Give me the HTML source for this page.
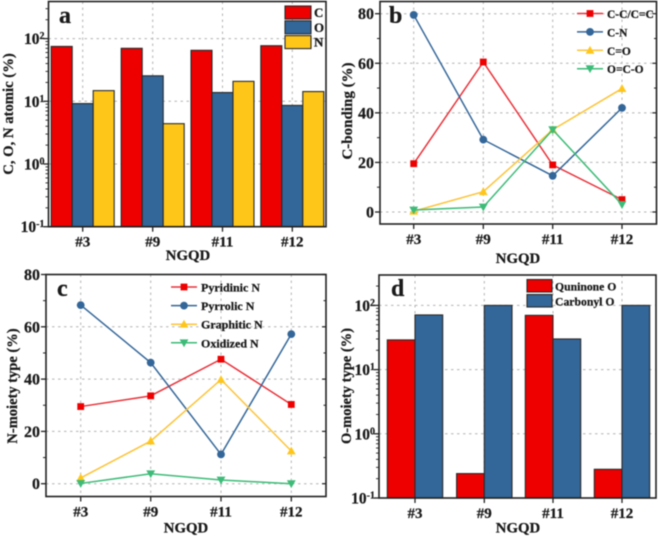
<!DOCTYPE html>
<html>
<head>
<meta charset="utf-8">
<style>
html,body{margin:0;padding:0;background:#fff;width:658px;height:537px;overflow:hidden}
svg{display:block;filter:blur(0.5px)}
text{font-family:"Liberation Serif",serif;font-weight:bold;fill:#1a1a1a;stroke:#1a1a1a;stroke-width:0.25px}
</style>
</head>
<body>
<svg id="fig" width="658" height="537" viewBox="0 0 658 537" xmlns="http://www.w3.org/2000/svg"></svg>
<script>
const categories = ['#3', '#9', '#11', '#12'];

const atomicC = [75, 70, 65, 77];
const atomicO = [9.2, 25.5, 13.8, 8.6];
const atomicN = [14.8, 4.4, 20.8, 14.3];

const bondCC = [19.5, 60.5, 19, 5];
const bondCN = [79.5, 29.2, 14.6, 42];
const bondCO = [0.3, 8.2, 33.2, 49.8];
const bondOCO = [0.8, 2, 33.2, 3];

const nPyridinic = [29.5, 33.6, 47.6, 30.3];
const nPyrrolic = [68.3, 46.3, 11.2, 57.2];
const nGraphitic = [2.2, 16.3, 39.8, 12.5];
const nOxidized = [0.1, 3.8, 1.4, 0];

const oQuinone = [29, 0.24, 70, 0.28];
const oCarbonyl = [71, 100, 30, 100];

const bTicks = [0, 20, 40, 60, 80];
const cTicks = [0, 20, 40, 60, 80];
const logTicks = [-1, 0, 1, 2];

const RED = '#ee0000', BLUE = '#336699', YEL = '#ffc61a', GRN = '#3dbb78';
const LRED = '#e8323a', LYEL = '#fcc438';
const NS = 'http://www.w3.org/2000/svg';
const svg = document.getElementById('fig');

function mk(tag, attrs, parent, txt) {
  const e = document.createElementNS(NS, tag);
  for (const k in attrs) e.setAttribute(k, attrs[k]);
  if (txt !== undefined) e.textContent = txt;
  (parent || svg).appendChild(e);
  return e;
}

function panelGroup(name) {
  const g = mk('g', {}, svg);
  
  
  return g;
}

function xTicks(g, p) {
  categories.forEach((c, i) => {
    const x = p.cx[i];
    mk('line', {x1: x, x2: x, y1: p.bottom, y2: p.bottom + 5, stroke: '#222', 'stroke-width': 1.3}, g);
    const t = mk('text', {x: x, y: p.bottom + 20, 'font-size': 15, 'text-anchor': 'middle'}, g, c);
    
    
  });
}

function frame(g, p) {
  const r = mk('rect', {x: p.left, y: p.top, width: p.right - p.left, height: p.bottom - p.top, fill: 'none', stroke: '#222', 'stroke-width': 1.6}, g);
  
  
}

function titles(g, p, ylabel, letter) {
  const xt = mk('text', {x: p.xtx, y: p.xty, 'font-size': 14.8, 'text-anchor': 'middle'}, g, 'NGQD');
  
  
  const yt = mk('text', {x: 0, y: 0, 'font-size': p.ytFs, 'text-anchor': 'middle', transform: `translate(${p.ytx},${p.yty}) rotate(-90)`}, g, ylabel);
  
  
  const pl = mk('text', {x: p.lx, y: p.ly, 'font-size': 24, fill: '#111'}, g, letter);
  
  
}

function grid(g, p, ys) {
  const dash = {stroke: '#b4b4b4', 'stroke-width': 1, 'stroke-dasharray': '2.5 3.5', fill: 'none'};
  ys.forEach(y => mk('line', Object.assign({x1: p.left, x2: p.right, y1: y, y2: y}, dash), g));
  p.cx.forEach(x => mk('line', Object.assign({x1: x, x2: x, y1: p.top, y2: p.bottom}, dash), g));
}

function linearPanel(name, p, ticks, series, ylabel, letter) {
  const g = panelGroup(name);
  const yOf = v => p.y0 + (p.y80 - p.y0) * v / 80;
  grid(g, p, ticks.map(yOf));
  series.forEach(s => {
    const pts = s.values.map((v, i) => p.cx[i] + ',' + yOf(v).toFixed(2)).join(' ');
    const l = mk('polyline', {points: pts, fill: 'none', stroke: s.color, 'stroke-width': 1.5}, g);
    
    
    s.values.forEach((v, i) => marker(g, s.shape, p.cx[i], yOf(v), s.fill));
  });
  frame(g, p);
  ticks.forEach((v, i) => {
    const y = yOf(v);
    mk('line', {x1: p.left - 5, x2: p.left + 0, y1: y, y2: y, stroke: '#222', 'stroke-width': 1.3}, g);
    mk('line', {x1: p.right - 4, x2: p.right, y1: y, y2: y, stroke: '#222', 'stroke-width': 1.2}, g);
    if (i < ticks.length - 1) {
      const m = yOf(v + 10);
      mk('line', {x1: p.left - 3, x2: p.left, y1: m, y2: m, stroke: '#222', 'stroke-width': 1}, g);
      mk('line', {x1: p.right - 2.5, x2: p.right, y1: m, y2: m, stroke: '#222', 'stroke-width': 1}, g);
    }
    const t = mk('text', {x: p.left - 6, y: y + 5.5, 'font-size': 16, 'text-anchor': 'end'}, g, v);
    
    
  });
  xTicks(g, p);
  titles(g, p, ylabel, letter);
  series.forEach((s, i) => {
    const y = p.legY + i * p.legDy;
    const lg = mk('g', {}, g);
    
    
    mk('line', {x1: p.legX, x2: p.legX + 26, y1: y, y2: y, stroke: s.color, 'stroke-width': 1.5}, lg);
    marker(lg, s.shape, p.legX + 13, y, s.fill);
    mk('text', {x: p.legX + 30, y: y + 4.5, 'font-size': p.legFs}, lg, s.label);
  });
}

function marker(g, shape, x, y, fill) {
  let m;
  if (shape === 'square') m = mk('rect', {x: x - 3.4, y: y - 3.4, width: 6.8, height: 6.8, fill: fill}, g);
  if (shape === 'circle') m = mk('circle', {cx: x, cy: y, r: 3.9, fill: fill}, g);
  if (shape === 'up') m = mk('polygon', {points: `${x - 4.4},${y + 3.4} ${x + 4.4},${y + 3.4} ${x},${y - 4.4}`, fill: fill}, g);
  if (shape === 'down') m = mk('polygon', {points: `${x - 4.4},${y - 3.4} ${x + 4.4},${y - 3.4} ${x},${y + 4.4}`, fill: fill}, g);
  
  
}

function logPanel(name, p, series, ylabel, letter) {
  const g = panelGroup(name);
  const yOf = v => p.y10m1 - (Math.log10(v) + 1) * p.decade;
  grid(g, p, logTicks.slice(1).map(e => yOf(Math.pow(10, e))));
  const n = series.length;
  categories.forEach((c, i) => {
    series.forEach((s, j) => {
      const x = p.cx[i] + (j - n / 2) * p.barW;
      const y = yOf(s.values[i]);
      const b = mk('rect', {x: x, y: y, width: p.barW, height: p.bottom - y, fill: s.color, stroke: '#2a2a2a', 'stroke-width': 1.1}, g);
      
      
    });
  });
  frame(g, p);
  logTicks.forEach(e => {
    const y = yOf(Math.pow(10, e));
    mk('line', {x1: p.left - 5, x2: p.left, y1: y, y2: y, stroke: '#222', 'stroke-width': 1.3}, g);
    const t = mk('text', {x: p.left - 4, y: y + 5.5, 'font-size': 15.5, 'text-anchor': 'end'}, g);
    
    
    mk('tspan', {}, t, '10');
    mk('tspan', {dy: -5, 'font-size': 10}, t, String(e));
    for (let k = 2; k < 10; k++) {
      const yy = yOf(k * Math.pow(10, e));
      if (yy > p.top) {
        mk('line', {x1: p.left - 3, x2: p.left, y1: yy, y2: yy, stroke: '#222', 'stroke-width': 0.9}, g);
      }
    }
  });
  xTicks(g, p);
  titles(g, p, ylabel, letter);
  series.forEach((s, i) => {
    const y = p.legY + i * p.legDy;
    const lg = mk('g', {}, g);
    
    
    mk('rect', {x: p.legX, y: y, width: p.legW, height: p.legH, fill: s.color, stroke: '#2a2a2a', 'stroke-width': 1.1}, lg);
    mk('text', {x: p.legX + p.legW + 3, y: y + p.legH / 2 + 4.5, 'font-size': p.legFs}, lg, s.label);
  });
}

logPanel('panel-a-atomic', {
  left: 48.5, right: 326, top: 1.5, bottom: 226.7, y10m1: 226.7, decade: 62.7,
  cx: [82.7, 152.7, 222.5, 292.3], barW: 21,
  xtx: 188, xty: 260, ytx: 13, yty: 114, ytFs: 14.7, lx: 59, ly: 23,
  legX: 285, legY: 6, legDy: 14.8, legW: 26, legH: 13, legFs: 13
}, [
  {label: 'C', color: RED, values: atomicC},
  {label: 'O', color: BLUE, values: atomicO},
  {label: 'N', color: YEL, values: atomicN}
], 'C, O, N atomic (%)', 'a');

linearPanel('panel-b-c-bonding', {
  left: 380, right: 656.5, top: 1.5, bottom: 224, y0: 212, y80: 13.7,
  cx: [413.7, 483.3, 552.7, 622],
  xtx: 518, xty: 263, ytx: 352, yty: 111, ytFs: 15, lx: 389, ly: 23,
  legX: 577, legY: 13.5, legDy: 18.4, legFs: 11.5
}, bTicks, [
  {label: 'C-C/C=C', color: LRED, fill: RED, shape: 'square', values: bondCC},
  {label: 'C-N', color: BLUE, fill: BLUE, shape: 'circle', values: bondCN},
  {label: 'C=O', color: LYEL, fill: YEL, shape: 'up', values: bondCO},
  {label: 'O=C-O', color: GRN, fill: GRN, shape: 'down', values: bondOCO}
], 'C-bonding (%)', 'b');

linearPanel('panel-c-n-moiety', {
  left: 46, right: 326, top: 274.5, bottom: 496.5, y0: 483.7, y80: 274.5,
  cx: [80.7, 150.7, 221, 291.3],
  xtx: 186, xty: 532.5, ytx: 17, yty: 386, ytFs: 14.5, lx: 57, ly: 296,
  legX: 171, legY: 287, legDy: 18.6, legFs: 12
}, cTicks, [
  {label: 'Pyridinic N', color: LRED, fill: RED, shape: 'square', values: nPyridinic},
  {label: 'Pyrrolic N', color: BLUE, fill: BLUE, shape: 'circle', values: nPyrrolic},
  {label: 'Graphitic N', color: LYEL, fill: YEL, shape: 'up', values: nGraphitic},
  {label: 'Oxidized N', color: GRN, fill: GRN, shape: 'down', values: nOxidized}
], 'N-moiety type (%)', 'c');

logPanel('panel-d-o-moiety', {
  left: 379, right: 656, top: 275, bottom: 498, y10m1: 498, decade: 64.2,
  cx: [415, 484.3, 553, 622], barW: 27.7,
  xtx: 518, xty: 532.5, ytx: 351, yty: 386, ytFs: 14.5, lx: 391, ly: 296,
  legX: 527, legY: 279.5, legDy: 15, legW: 25, legH: 12.5, legFs: 11.7
}, [
  {label: 'Quninone O', color: RED, values: oQuinone},
  {label: 'Carbonyl O', color: BLUE, values: oCarbonyl}
], 'O-moiety type (%)', 'd');
</script>
</body>
</html>
